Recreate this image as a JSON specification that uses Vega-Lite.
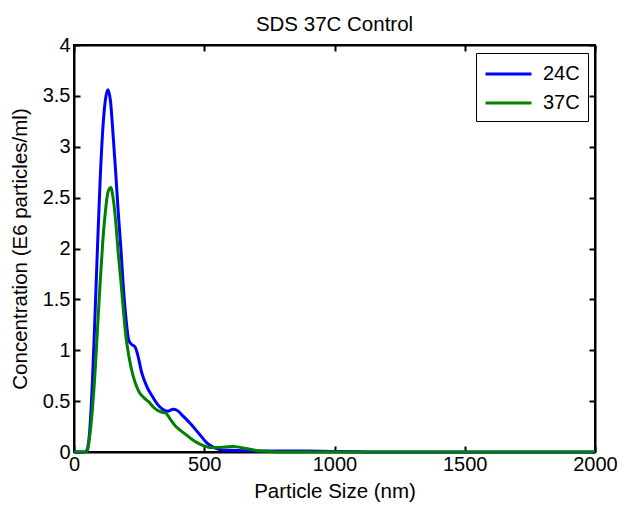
{
  "$schema": "https://vega.github.io/schema/vega-lite/v6.json",
  "width": 521,
  "height": 407,
  "autosize": {"type": "none"},
  "padding": {"left": 74, "top": 45, "right": 27, "bottom": 53},
  "background": "white",
  "config": {
    "font": "Liberation Sans",
    "view": {"stroke": "black", "strokeWidth": 2},
    "axis": {"grid": false, "domainColor": "black", "domainWidth": 2, "tickColor": "black", "tickWidth": 2, "labelColor": "black", "titleColor": "black", "labelFont": "Liberation Sans", "titleFont": "Liberation Sans", "labelFontSize": 20, "titleFontSize": 20.5, "titleFontWeight": "normal"}
  },
  "title": {"text": "SDS 37C Control", "fontSize": 20.5, "fontWeight": "normal", "color": "black", "font": "Liberation Sans", "offset": 0},
  "data": {"values": [
    {"size": 0, "conc": 0, "series": "24C"},
    {"size": 40, "conc": 0, "series": "24C"},
    {"size": 50, "conc": 0.02, "series": "24C"},
    {"size": 60, "conc": 0.2, "series": "24C"},
    {"size": 70, "conc": 0.65, "series": "24C"},
    {"size": 80, "conc": 1.3, "series": "24C"},
    {"size": 90, "conc": 2.0, "series": "24C"},
    {"size": 100, "conc": 2.65, "series": "24C"},
    {"size": 110, "conc": 3.15, "series": "24C"},
    {"size": 120, "conc": 3.45, "series": "24C"},
    {"size": 130, "conc": 3.56, "series": "24C"},
    {"size": 140, "conc": 3.45, "series": "24C"},
    {"size": 150, "conc": 3.12, "series": "24C"},
    {"size": 160, "conc": 2.75, "series": "24C"},
    {"size": 170, "conc": 2.35, "series": "24C"},
    {"size": 180, "conc": 2.0, "series": "24C"},
    {"size": 190, "conc": 1.6, "series": "24C"},
    {"size": 200, "conc": 1.3, "series": "24C"},
    {"size": 210, "conc": 1.1, "series": "24C"},
    {"size": 220, "conc": 1.06, "series": "24C"},
    {"size": 235, "conc": 1.03, "series": "24C"},
    {"size": 245, "conc": 0.95, "series": "24C"},
    {"size": 260, "conc": 0.78, "series": "24C"},
    {"size": 280, "conc": 0.64, "series": "24C"},
    {"size": 300, "conc": 0.55, "series": "24C"},
    {"size": 320, "conc": 0.47, "series": "24C"},
    {"size": 340, "conc": 0.42, "series": "24C"},
    {"size": 360, "conc": 0.4, "series": "24C"},
    {"size": 380, "conc": 0.42, "series": "24C"},
    {"size": 395, "conc": 0.41, "series": "24C"},
    {"size": 420, "conc": 0.35, "series": "24C"},
    {"size": 450, "conc": 0.27, "series": "24C"},
    {"size": 480, "conc": 0.18, "series": "24C"},
    {"size": 510, "conc": 0.09, "series": "24C"},
    {"size": 540, "conc": 0.04, "series": "24C"},
    {"size": 570, "conc": 0.02, "series": "24C"},
    {"size": 620, "conc": 0.015, "series": "24C"},
    {"size": 700, "conc": 0.01, "series": "24C"},
    {"size": 800, "conc": 0.01, "series": "24C"},
    {"size": 900, "conc": 0.01, "series": "24C"},
    {"size": 1000, "conc": 0.005, "series": "24C"},
    {"size": 1100, "conc": 0.002, "series": "24C"},
    {"size": 1200, "conc": 0, "series": "24C"},
    {"size": 2000, "conc": 0, "series": "24C"},
    {"size": 0, "conc": 0, "series": "37C"},
    {"size": 45, "conc": 0, "series": "37C"},
    {"size": 52, "conc": 0.02, "series": "37C"},
    {"size": 60, "conc": 0.15, "series": "37C"},
    {"size": 70, "conc": 0.4, "series": "37C"},
    {"size": 80, "conc": 0.75, "series": "37C"},
    {"size": 90, "conc": 1.2, "series": "37C"},
    {"size": 100, "conc": 1.65, "series": "37C"},
    {"size": 110, "conc": 2.05, "series": "37C"},
    {"size": 120, "conc": 2.35, "series": "37C"},
    {"size": 130, "conc": 2.55, "series": "37C"},
    {"size": 141, "conc": 2.6, "series": "37C"},
    {"size": 150, "conc": 2.5, "series": "37C"},
    {"size": 160, "conc": 2.27, "series": "37C"},
    {"size": 170, "conc": 1.95, "series": "37C"},
    {"size": 180, "conc": 1.68, "series": "37C"},
    {"size": 190, "conc": 1.38, "series": "37C"},
    {"size": 200, "conc": 1.12, "series": "37C"},
    {"size": 210, "conc": 0.95, "series": "37C"},
    {"size": 220, "conc": 0.82, "series": "37C"},
    {"size": 235, "conc": 0.68, "series": "37C"},
    {"size": 250, "conc": 0.59, "series": "37C"},
    {"size": 270, "conc": 0.53, "series": "37C"},
    {"size": 288, "conc": 0.49, "series": "37C"},
    {"size": 305, "conc": 0.44, "series": "37C"},
    {"size": 320, "conc": 0.41, "series": "37C"},
    {"size": 340, "conc": 0.39, "series": "37C"},
    {"size": 353, "conc": 0.38, "series": "37C"},
    {"size": 370, "conc": 0.32, "series": "37C"},
    {"size": 391, "conc": 0.25, "series": "37C"},
    {"size": 410, "conc": 0.21, "series": "37C"},
    {"size": 430, "conc": 0.17, "series": "37C"},
    {"size": 455, "conc": 0.12, "series": "37C"},
    {"size": 481, "conc": 0.08, "series": "37C"},
    {"size": 500, "conc": 0.06, "series": "37C"},
    {"size": 520, "conc": 0.045, "series": "37C"},
    {"size": 550, "conc": 0.045, "series": "37C"},
    {"size": 580, "conc": 0.05, "series": "37C"},
    {"size": 610, "conc": 0.055, "series": "37C"},
    {"size": 640, "conc": 0.045, "series": "37C"},
    {"size": 670, "conc": 0.03, "series": "37C"},
    {"size": 700, "conc": 0.015, "series": "37C"},
    {"size": 750, "conc": 0.005, "series": "37C"},
    {"size": 800, "conc": 0, "series": "37C"},
    {"size": 2000, "conc": 0, "series": "37C"}
  ]},
  "layer": [
    {
      "mark": {"type": "line", "interpolate": "monotone", "strokeWidth": 3},
      "encoding": {
        "x": {"field": "size", "type": "quantitative", "scale": {"domain": [0, 2000], "nice": false}, "axis": {"values": [0, 500, 1000, 1500, 2000], "format": "d", "title": "Particle Size (nm)", "tickSize": -6, "labelPadding": 8, "titlePadding": 7, "labelFlush": false}},
        "y": {"field": "conc", "type": "quantitative", "scale": {"domain": [0, 4], "nice": false}, "axis": {"values": [0, 0.5, 1, 1.5, 2, 2.5, 3, 3.5, 4], "format": "~g", "title": "Concentration (E6 particles/ml)", "tickSize": -6, "labelPadding": 10, "titlePadding": 12, "labelFlush": false}},
        "color": {"field": "series", "type": "nominal", "scale": {"domain": ["24C", "37C"], "range": ["#0000ff", "#008000"]},
          "legend": {"title": null, "orient": "none", "legendX": 402, "legendY": 8, "strokeColor": "black", "fillColor": "white", "padding": 8, "cornerRadius": 0, "symbolType": "M-1,0H3", "symbolSize": 529, "symbolStrokeWidth": 3, "labelFontSize": 20, "labelColor": "black", "labelFont": "Liberation Sans", "rowPadding": 6, "labelOffset": 33}}
      }
    },
    {
      "mark": {"type": "line", "opacity": 0},
      "encoding": {
        "x": {"field": "size", "type": "quantitative", "scale": {"domain": [0, 2000], "nice": false}, "axis": {"orient": "top", "values": [0, 500, 1000, 1500, 2000], "labels": false, "title": null, "tickSize": -6}},
        "y": {"field": "conc", "type": "quantitative", "scale": {"domain": [0, 4], "nice": false}, "axis": {"orient": "right", "values": [0, 0.5, 1, 1.5, 2, 2.5, 3, 3.5, 4], "labels": false, "title": null, "tickSize": -6}},
        "detail": {"field": "series"}
      }
    }
  ],
  "resolve": {"axis": {"x": "independent", "y": "independent"}}
}
